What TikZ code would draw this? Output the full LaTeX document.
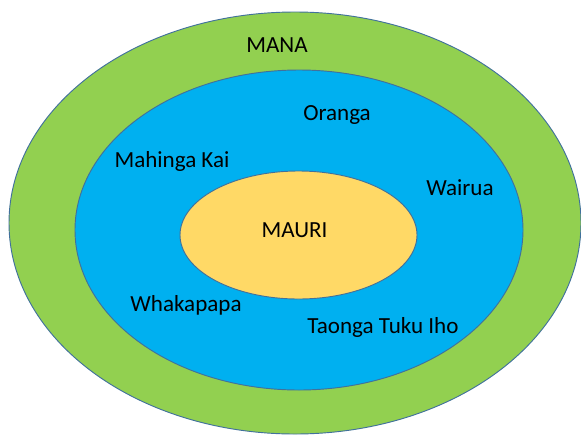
\documentclass[tikz,border=0pt]{standalone}
\usepackage{fontspec}
\setmainfont{Carlito}
\usetikzlibrary{shapes.geometric}
\definecolor{cMana}{RGB}{146,208,80}
\definecolor{cRing}{RGB}{0,176,240}
\definecolor{cMauri}{RGB}{255,217,102}
\definecolor{cEdge}{RGB}{65,113,156}
\tikzset{
	ring/.style={ellipse, draw=cEdge, line width=0.7pt, inner sep=0pt},
	lbl/.style ={font=\fontsize{17.3}{20}\selectfont, text=black, inner sep=0pt, anchor=base},
}

\begin{document}
\begin{tikzpicture}[x=0.75pt, y=-0.75pt]
	\useasboundingbox (0,0) rectangle (581,436);
	\node[ring, fill=cMana, minimum width=429pt, minimum height=316.5pt] (mana) at (295,223) {};
	\node[ring, fill=cRing, minimum width=336pt, minimum height=240pt] (oranga) at (299,230) {};
	\node[ring, fill=cMauri, minimum width=177.75pt, minimum height=96pt] (mauri) at (298.5,235) {};
	\node[lbl] (manaTxt) at (277,52) {MANA};
	\node[lbl] (orangaTxt) at (337,120) {Oranga};
	\node[lbl] (kaiTxt) at (172,167) {Mahinga Kai};
	\node[lbl] (wairuaTxt) at (460,195) {Wairua};
	\node[lbl] (mauriTxt) at (294.5,237) {MAURI};
	\node[lbl] (whakTxt) at (186,311) {Whakapapa};
	\node[lbl] (taongaTxt) at (383,333) {Taonga Tuku Iho};
\end{tikzpicture}
\end{document}
